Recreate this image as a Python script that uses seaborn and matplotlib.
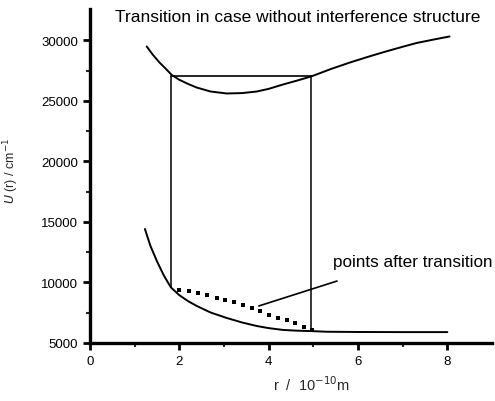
import matplotlib
matplotlib.use("Agg")
import matplotlib.pyplot as plt
import seaborn as sns
import pandas as pd

# Upper potential curve
upper_r = [1.27, 1.4, 1.55, 1.7, 1.83, 2.0, 2.2, 2.39, 2.7, 3.06, 3.4, 3.73, 4.0, 4.32, 4.65, 4.97, 5.4, 5.82, 6.2, 6.55, 7.0, 7.31, 7.7, 8.05]
upper_u = [29500, 28850, 28200, 27650, 27150, 26750, 26400, 26110, 25780, 25620, 25650, 25780, 26000, 26360, 26700, 27050, 27650, 28180, 28620, 29010, 29480, 29790, 30080, 30330]

# Lower potential curve
lower_r = [1.23, 1.35, 1.5, 1.65, 1.81, 2.0, 2.2, 2.39, 2.7, 3.06, 3.4, 3.74, 4.0, 4.32, 4.62, 4.92, 5.3, 6.0, 7.0, 8.0]
lower_u = [14420, 13050, 11750, 10600, 9600, 8950, 8450, 8060, 7520, 7070, 6700, 6400, 6230, 6080, 6020, 5990, 5930, 5910, 5900, 5900]

# Points after transition (dotted)
dots_r = [1.99, 2.22, 2.42, 2.62, 2.84, 3.02, 3.22, 3.42, 3.62, 3.80, 4.00, 4.20, 4.40, 4.59, 4.79, 4.97]
dots_u = [9380, 9300, 9130, 8970, 8720, 8550, 8390, 8140, 7890, 7640, 7310, 7070, 6900, 6650, 6320, 6050]

# Transition box
trans_r = [1.81, 4.94]
trans_u_top = 27100
trans_u_bottom = [9600, 5990]

# Annotation pointer
pointer_r = [3.78, 5.53]
pointer_u = [8060, 10120]

x_ticks = [0, 2, 4, 6, 8]
y_ticks = [5000, 10000, 15000, 20000, 25000, 30000]

sns.set_theme(style="ticks")
plt.rcParams["font.family"] = ["Liberation Sans", "DejaVu Sans"]

fig = plt.figure(figsize=(4.95, 4.02), dpi=100)
ax = fig.add_axes([90/495, 58/402, 402/495, 334/402])

up_df = pd.DataFrame({"r": upper_r, "u": upper_u})
lo_df = pd.DataFrame({"r": lower_r, "u": lower_u})
dot_df = pd.DataFrame({"r": dots_r, "u": dots_u})

sns.lineplot(data=up_df, x="r", y="u", ax=ax, color="black", lw=1.4, sort=False)
sns.lineplot(data=lo_df, x="r", y="u", ax=ax, color="black", lw=1.4, sort=False)
sns.scatterplot(data=dot_df, x="r", y="u", ax=ax, color="black", marker="s", s=8, linewidth=0)

# transition lines
ax.plot([trans_r[0], trans_r[1]], [trans_u_top, trans_u_top], color="black", lw=1.2)
ax.plot([trans_r[0], trans_r[0]], [trans_u_top, trans_u_bottom[0]], color="black", lw=1.1)
ax.plot([trans_r[1], trans_r[1]], [trans_u_top, trans_u_bottom[1]], color="black", lw=1.1)
ax.plot(pointer_r, pointer_u, color="black", lw=1.2)

ax.text(0.56, 31950, "Transition in case without interference structure", fontsize=12.5,
        va="center", ha="left", color="black")
ax.text(5.44, 11700, "points after transition", fontsize=12.3, va="center", ha="left", color="black")

ax.set_xlim(0, 9)
ax.set_ylim(5000, 32600)
ax.set_xticks(x_ticks)
ax.set_xticks([1, 3, 5, 7], minor=True)
ax.set_yticks(y_ticks)
ax.set_yticks([7500, 12500, 17500, 22500, 27500], minor=True)
ax.tick_params(axis="both", which="major", length=5, width=2, labelsize=9.5, colors="black")
ax.tick_params(axis="both", which="minor", length=3, width=1.5)
for s in ["top", "right"]:
    ax.spines[s].set_visible(False)
for s in ["left", "bottom"]:
    ax.spines[s].set_linewidth(2.4)
    ax.spines[s].set_color("black")

ax.set_xlabel("r  /  10$^{-10}$m", fontsize=10.5)
ax.xaxis.set_label_coords(0.55, -0.095)
ax.set_ylabel("$U$ (r) / cm$^{-1}$", fontsize=9)
ax.yaxis.set_label_coords(-0.172, 0.52)

fig.savefig("out.png", dpi=100)
